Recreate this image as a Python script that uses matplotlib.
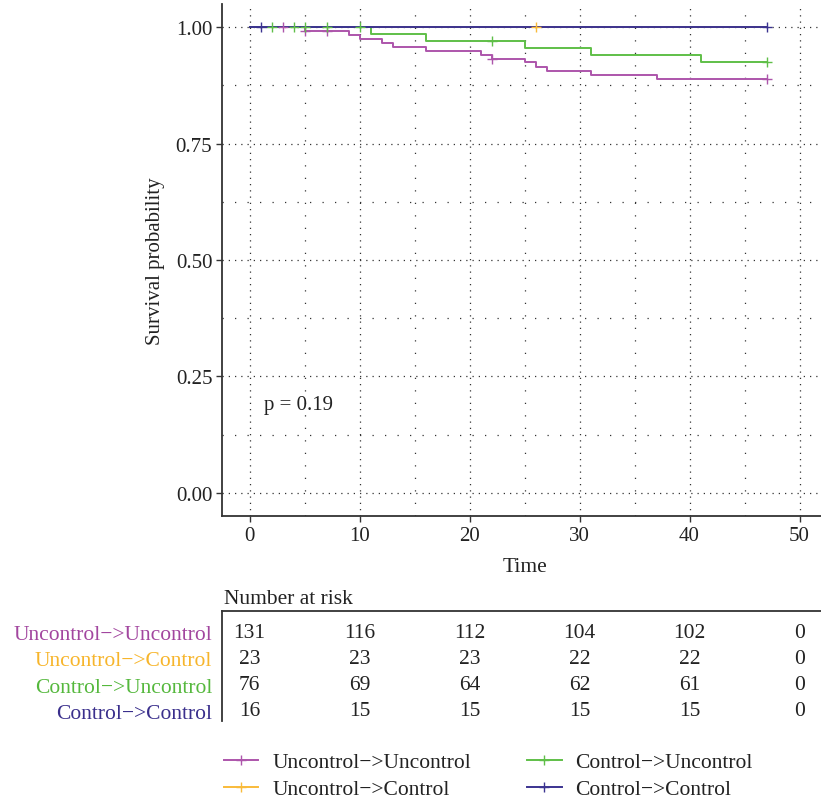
import numpy as np
import matplotlib
matplotlib.use("Agg")
import matplotlib.pyplot as plt
from matplotlib.lines import Line2D

plt.rcParams['font.family'] = ['Liberation Serif', 'DejaVu Serif']

# group names and colours
groups = ["Uncontrol->Uncontrol", "Uncontrol->Control", "Control->Uncontrol", "Control->Control"]
labels = ["Uncontrol\u2212>Uncontrol", "Uncontrol\u2212>Control", "Control\u2212>Uncontrol", "Control\u2212>Control"]
colors = ["#ad55ab", "#f9bb3a", "#5fbf48", "#3b3390"]
text_colors = ["#a2469f", "#f7b52b", "#55b83d", "#3a2f8c"]

# Kaplan-Meier steps
uu_time = [0, 5, 9, 10, 12, 13, 16, 21, 22, 25, 26, 27, 31, 37, 47]
uu_surv = [1.0, 0.992, 0.983, 0.974, 0.967, 0.958, 0.949, 0.940, 0.932, 0.925, 0.915, 0.907, 0.897, 0.889, 0.889]
uu_cens = [3, 5, 7, 22, 47]

uc_time = [0, 47]
uc_surv = [1.0, 1.0]
uc_cens = [26]

cu_time = [0, 11, 16, 25, 31, 41, 47]
cu_surv = [1.0, 0.986, 0.970, 0.955, 0.940, 0.925, 0.925]
cu_cens = [2, 4, 5, 7, 10, 22, 47]

cc_time = [0, 47]
cc_surv = [1.0, 1.0]
cc_cens = [1, 47]

# number at risk
risk_times = [0, 10, 20, 30, 40, 50]
risk_uu = [131, 116, 112, 104, 102, 0]
risk_uc = [23, 23, 23, 22, 22, 0]
risk_cu = [76, 69, 64, 62, 61, 0]
risk_cc = [16, 15, 15, 15, 15, 0]

p_text = "p = 0.19"

curves = [(uu_time, uu_surv, uu_cens), (uc_time, uc_surv, uc_cens),
          (cu_time, cu_surv, cu_cens), (cc_time, cc_surv, cc_cens)]
risks = [risk_uu, risk_uc, risk_cu, risk_cc]

W, H = 821, 803
fig = plt.figure(figsize=(W / 100, H / 100), dpi=100)

ax = fig.add_axes([222 / W, 1 - 517 / H, 605 / W, (517 - 5) / H])
ax.set_xlim(-2.5, 52.5)
ax.set_ylim(-0.05, 1.05)

def surv_at(t_arr, s_arr, t):
    i = np.searchsorted(t_arr, t, side='right') - 1
    return s_arr[max(i, 0)]

for (t, s, c), col in zip(curves, colors):
    ax.step(t, s, where='post', color=col, lw=1.4, zorder=3)
    ys = [surv_at(t, s, ct) for ct in c]
    ax.plot(c, ys, ls='none', marker='+', ms=7, mew=1.0, color=col, zorder=4)

ax.set_xticks(risk_times)
ax.set_yticks([0, 0.25, 0.5, 0.75, 1.0])
ax.set_yticklabels(["0.00", "0.25", "0.50", "0.75", "1.00"])
ax.set_xticks([5, 15, 25, 35, 45], minor=True)
ax.set_yticks([0.125, 0.375, 0.625, 0.875], minor=True)
ax.grid(which='major', color='#333333', linestyle=(0, (1, 4)), lw=0.9)
ax.grid(which='minor', color='#333333', linestyle=(0, (1, 9)), lw=0.9)
ax.tick_params(which='minor', length=0)
ax.tick_params(which='major', length=4, width=1, color='#333333', labelsize=15,
               labelcolor='#222222', pad=3)
for sp in ['top', 'right']:
    ax.spines[sp].set_visible(False)
for sp in ['left', 'bottom']:
    ax.spines[sp].set_linewidth(1.3)
    ax.spines[sp].set_color('#333333')
ax.set_xlabel("Time", fontsize=15.5, color='#222222', labelpad=9)
ax.set_ylabel("Survival probability", fontsize=15, color='#222222', labelpad=8)
ax.text(1.3, 0.19, p_text, fontsize=15, color='#222222', va='center', ha='left')

# risk table
tab = fig.add_axes([222 / W, 1 - 722 / H, 605 / W, (722 - 612) / H])
tab.set_xlim(-2.5, 52.5)
tab.set_ylim(-0.4, 3.82)
for i, r in enumerate(risks):
    for t, n in zip(risk_times, r):
        tab.text(t, 3 - i, str(n), ha='center', va='center', fontsize=15.5, color='#222222')
tab.set_yticks([3, 2, 1, 0])
tab.set_yticklabels(labels, fontsize=15.5)
for lab, col in zip(tab.get_yticklabels(), text_colors):
    lab.set_color(col)
tab.tick_params(axis='y', length=0, pad=7)
tab.set_xticks([])
for sp in ['right', 'bottom']:
    tab.spines[sp].set_visible(False)
for sp in ['left', 'top']:
    tab.spines[sp].set_linewidth(1.3)
    tab.spines[sp].set_color('#333333')
tab.text(0.003, 1.025, "Number at risk", transform=tab.transAxes, fontsize=15.5,
         color='#222222', ha='left', va='bottom')

# legend
handles = [Line2D([], [], color=c, lw=1.4, marker='+', ms=7, mew=1.0) for c in colors]
fig.legend(handles, labels, loc='upper left', bbox_to_anchor=(224 / W, 1 - 753 / H),
           ncol=2, frameon=False, fontsize=15.5, handlelength=1.6, handletextpad=0.65,
           columnspacing=2.6, labelspacing=0.33, borderpad=0, borderaxespad=0,
           labelcolor='#222222')

fig.savefig("out.png", dpi=100)
